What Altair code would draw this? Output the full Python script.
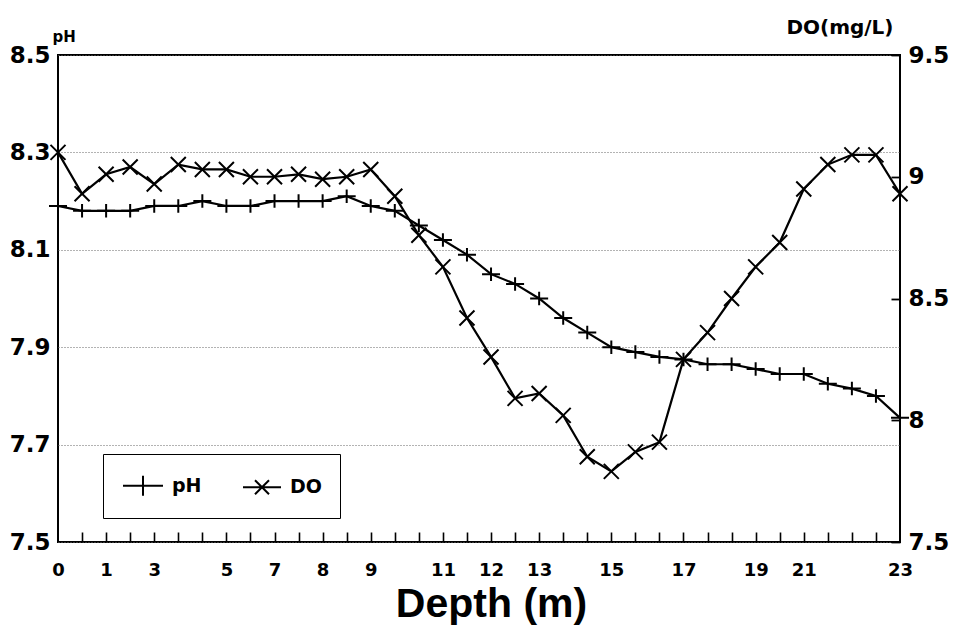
import altair as alt
import pandas as pd

# ---- data ----
ph = [8.19, 8.18, 8.18, 8.18, 8.19, 8.19, 8.20, 8.19, 8.19, 8.20, 8.20, 8.20,
      8.21, 8.19, 8.18, 8.15, 8.12, 8.09, 8.05, 8.03, 8.00, 7.96, 7.93, 7.90,
      7.89, 7.88, 7.875, 7.865, 7.865, 7.855, 7.845, 7.845, 7.825, 7.815, 7.80, 7.755]
do = [9.10, 8.93, 9.01, 9.04, 8.97, 9.05, 9.03, 9.03, 9.00, 9.00, 9.01, 8.99,
      9.00, 9.03, 8.92, 8.76, 8.63, 8.42, 8.26, 8.09, 8.11, 8.02, 7.85, 7.79,
      7.87, 7.91, 8.25, 8.36, 8.50, 8.63, 8.73, 8.95, 9.05, 9.09, 9.09, 8.93]
label_pos = [0, 2, 4, 7, 9, 11, 13, 16, 18, 20, 23, 26, 29, 31, 35]
label_txt = ["0", "1", "3", "5", "7", "8", "9", "11", "12", "13", "15", "17", "19", "21", "23"]
ph_ticks = [7.5, 7.7, 7.9, 8.1, 8.3, 8.5]
do_ticks = [7.5, 8, 8.5, 9, 9.5]
series = ["pH", "DO"]

n = len(ph)
W, H = 842, 487
df = pd.DataFrame({"idx": list(range(n)), "ph": ph, "do": do})
leg_df = pd.DataFrame({"series": series})

lab = [""] * n
for p, t in zip(label_pos, label_txt):
    lab[p] = t
label_expr = "[" + ",".join("'" + s + "'" for s in lab) + "][datum.value]"

FONT = "DejaVu Sans"
PLUS = "M-1,0L1,0M0,-0.75L0,0.75"
CROSS = "M-1,-1L1,1M-1,1L1,-1"
LEG_PLUS = "M-0.92,0L2.28,0M0.68,-0.8L0.68,0.8"
LEG_CROSS = "M-0.76,0L2.28,0M0.2,-0.56L1.32,0.56M0.2,0.56L1.32,-0.56"

x_scale = alt.Scale(domain=[0, n - 1], nice=False, zero=False)
ph_scale = alt.Scale(domain=[7.5, 8.5], nice=False, zero=False)
do_scale = alt.Scale(domain=[7.5, 9.5], nice=False, zero=False)

# bottom axis: labels + title
x_axis = alt.Axis(
    orient="bottom",
    values=label_pos, labelExpr=label_expr, ticks=False, grid=False, domain=False,
    labelFont=FONT, labelFontWeight="bold", labelFontSize=18, labelColor="black",
    labelPadding=19, labelFlush=False, labelOverlap=False,
    title="Depth (m)", titleFont="Liberation Sans", titleFontSize=41,
    titleFontWeight="bold", titleColor="black", titleX=433, titleY=74,
    titleAlign="center", titleBaseline="alphabetic",
)
# inward tick marks along the bottom edge: a top-oriented axis moved down to the
# bottom edge, so its (upward) ticks point into the plot
x_tick_axis = alt.Axis(
    orient="top",
    values=list(range(1, n - 1)), labels=False, ticks=True, tickSize=10,
    tickWidth=1.6, tickColor="black", grid=False, domain=False, offset=-H,
    title=None,
)

ph_axis = alt.Axis(
    orient="left",
    values=ph_ticks, format=".1f", grid=True, gridDash=[1, 2], gridColor="#666",
    gridWidth=1, ticks=False, domain=False, labelFont=FONT, labelFontSize=23,
    labelFontWeight="bold", labelColor="black", labelPadding=8, labelFlush=False,
    labelOverlap=False, title="pH", titleAngle=0, titleAlign="left", titleX=-6,
    titleY=-14, titleBaseline="alphabetic", titleFont=FONT, titleFontSize=15,
    titleFontWeight="bold", titleColor="black",
)
# right axis moved 9px inside the frame: its ticks then point inward up to the frame
do_axis = alt.Axis(
    orient="right", values=do_ticks, labelExpr="'' + datum.value", grid=False,
    ticks=True, tickSize=9, tickWidth=1.8, tickColor="black", offset=-9,
    domain=False, labelFont=FONT, labelFontSize=23, labelFontWeight="bold",
    labelColor="black", labelPadding=8, labelFlush=False, labelOverlap=False,
    title="DO(mg/L)", titleAngle=0, titleAlign="right", titleX=2, titleY=-22,
    titleBaseline="alphabetic", titleFont=FONT, titleFontSize=20,
    titleFontWeight="bold", titleColor="black",
)

base = alt.Chart(df)
x_lab = alt.X("idx:Q", scale=x_scale, axis=x_axis)
x_tk = alt.X("idx:Q", scale=x_scale, axis=x_tick_axis)
y_ph = alt.Y("ph:Q", scale=ph_scale, axis=ph_axis)
y_do = alt.Y("do:Q", scale=do_scale, axis=do_axis)

ph_line = base.mark_line(color="black", strokeWidth=2.2).encode(x=x_lab, y=y_ph)
ph_pts = base.mark_point(shape=PLUS, size=324, filled=False, color="black",
                         strokeWidth=2, opacity=1).encode(x=x_lab, y=y_ph)

do_line = base.mark_line(color="black", strokeWidth=2.2).encode(x=x_tk, y=y_do)
do_pts = base.mark_point(shape=CROSS, size=225, filled=False, color="black",
                         strokeWidth=2, opacity=1).encode(x=x_tk, y=y_do)

legend_layer = alt.Chart(leg_df).transform_filter("false").mark_point(
    filled=False, color="black", strokeWidth=2, opacity=1).encode(
    shape=alt.Shape(
        "series:N",
        scale=alt.Scale(domain=series, range=[LEG_PLUS, LEG_CROSS]),
        legend=alt.Legend(
            title=None, orient="none", legendX=45, legendY=399, direction="horizontal",
            symbolSize=625, symbolStrokeWidth=2, symbolStrokeColor="black",
            symbolFillColor="transparent", symbolOpacity=1,
            labelFont=FONT, labelFontWeight="bold", labelFontSize=19,
            labelColor="black", labelOffset=24, columnPadding=37, padding=18,
            strokeColor="black",
        ),
    )
)

chart = alt.layer(
    alt.layer(ph_line, ph_pts),
    alt.layer(do_line, do_pts),
    legend_layer,
).resolve_scale(y="independent").resolve_axis(x="independent").properties(
    width=W, height=H,
    autosize=alt.AutoSizeParams(type="none"),
    padding={"left": 58, "top": 55, "right": 54, "bottom": 91},
    background="white",
).configure_view(stroke="black", strokeWidth=2)

chart.save("out.html", embed_options={"renderer": "svg", "actions": False})
